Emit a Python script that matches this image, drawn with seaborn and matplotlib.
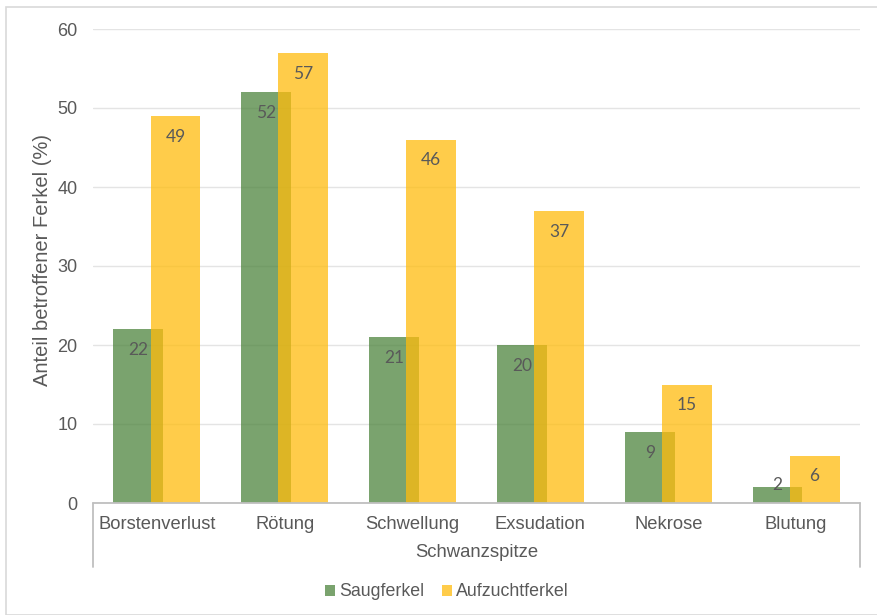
import matplotlib
matplotlib.use("Agg")
import matplotlib.pyplot as plt
from matplotlib.lines import Line2D
from matplotlib.patches import Rectangle, Patch
import pandas as pd
import seaborn as sns

# Tail-tip lesions in suckling and rearing piglets
categories = ["Borstenverlust", "Rötung", "Schwellung", "Exsudation", "Nekrose", "Blutung"]
saugferkel = [22, 52, 21, 20, 9, 2]
aufzuchtferkel = [49, 57, 46, 37, 15, 6]
series_names = ["Saugferkel", "Aufzuchtferkel"]
y_ticks = [0, 10, 20, 30, 40, 50, 60]

df = pd.DataFrame({
    "Befund": categories * 2,
    "Gruppe": [series_names[0]] * len(categories) + [series_names[1]] * len(categories),
    "Anteil": saugferkel + aufzuchtferkel,
})

sns.set_theme(style="white")
plt.rcParams["font.family"] = ["Liberation Sans", "DejaVu Sans"]

GREEN = "#4D843D"
YELLOW = "#FFBC0D"
ALPHA = 0.75
TEXT = "#595959"
AXIS = "#BFBFBF"
GRID = "#E4E4E4"

fig = plt.figure(figsize=(8.77, 6.15), dpi=100)
W, H = 877, 615
ax = fig.add_axes([93 / W, 1 - 503 / H, (860 - 93) / W, (503 - 29) / H])

sns.barplot(data=df, x="Befund", y="Anteil", hue="Gruppe", order=categories,
            hue_order=series_names, palette=[GREEN, YELLOW], width=0.58,
            alpha=ALPHA, linewidth=0, saturation=1, ax=ax, legend=False)

# widen the bars around their centres so the two series overlap
bar_w = 0.39
for p in ax.patches:
    cx = p.get_x() + p.get_width() / 2
    p.set_x(cx - bar_w / 2)
    p.set_width(bar_w)

# value labels at the inside end; labels that do not fit sit on the bar top
for p in ax.patches:
    h = p.get_height()
    cx = p.get_x() + p.get_width() / 2
    dy = -15 if h >= 4 else 1.5
    ax.annotate(f"{h:.0f}", xy=(cx, h), xytext=(0, dy), textcoords="offset points",
                ha="center", va="center", fontsize=12.5, color=TEXT,
                family=["Lato", "DejaVu Sans"])

ax.set_xlim(-0.5, len(categories) - 0.5)
ax.set_ylim(0, 60)
ax.set_yticks(y_ticks)
ax.yaxis.grid(True, color=GRID, linewidth=1)
ax.set_axisbelow(True)
for s in ax.spines.values():
    s.set_visible(False)

ax.tick_params(axis="y", length=0, pad=11, labelsize=13, labelcolor=TEXT)
ax.tick_params(axis="x", length=0, pad=9.5, labelsize=13.2, labelcolor=TEXT)
ax.set_ylabel("Anteil betroffener Ferkel (%)", fontsize=14.5, color=TEXT)
ax.yaxis.set_label_coords(-0.053, 0.513)
ax.set_xlabel("Schwanzspitze", fontsize=13.3, color=TEXT, labelpad=8)

# category axis line with its enclosing bracket
tr = ax.transAxes
bottom = -(567 - 503) / (503 - 29)
for xs, ys in [([0, 1], [0, 0]), ([0, 0], [0, bottom]), ([1, 1], [0, bottom])]:
    ax.add_line(Line2D(xs, ys, transform=tr, color=AXIS, linewidth=1.3, clip_on=False))

# legend
handles = [Patch(facecolor=GREEN, alpha=ALPHA, edgecolor="none"),
           Patch(facecolor=YELLOW, alpha=ALPHA, edgecolor="none")]
fig.legend(handles, series_names, loc="center", bbox_to_anchor=(447 / W, 1 - 592 / H),
           ncol=2, frameon=False, fontsize=12.8, labelcolor=TEXT,
           handlelength=0.55, handleheight=0.55, handletextpad=0.25, columnspacing=1.0)

# chart-area border
fig.patches.append(Rectangle((6 / W, 0), 1.0, 1 - 7 / H, transform=fig.transFigure,
                             fill=False, edgecolor="#D9D9D9", linewidth=1.2))

fig.savefig("out.png", dpi=100, facecolor="white")
